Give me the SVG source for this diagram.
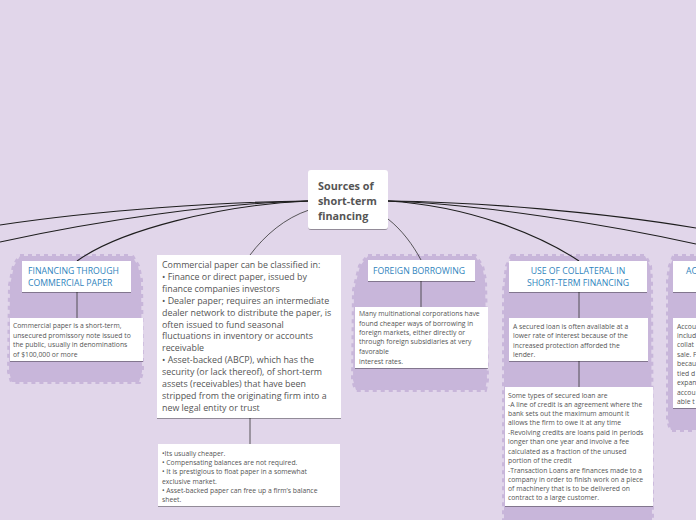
<svg xmlns="http://www.w3.org/2000/svg" width="696" height="520" viewBox="0 0 696 520">
<defs>
<filter id="sh" x="-5%" y="-5%" width="110%" height="115%">
<feDropShadow dx="0" dy="1" stdDeviation="0.6" flood-color="#000" flood-opacity="0.35"/>
</filter>
</defs>
<style>
.bg{fill:#e1d6ea}
.cl{fill:#c8b6da;stroke:#c8b6da;stroke-width:4;stroke-dasharray:4 4}
.box{fill:#ffffff;filter:url(#sh)}
.root{fill:#ffffff;filter:url(#sh)}
.t{font-family:"Open Sans","Noto Sans",sans-serif;fill:#555555}
.rt{font-size:10.8px;font-weight:bold}
.h{font-family:"Open Sans","Noto Sans",sans-serif;fill:#2f84bd;font-size:8.7px}
.m{font-size:8.9px}
.s{font-size:6.8px}
.c{fill:none;stroke:#1e1e1e;stroke-width:1.1}
.c2{fill:none;stroke:#333;stroke-width:0.8}
</style>
<rect class="bg" x="0" y="0" width="696" height="520"/>

<g id="clusters">
<path class="cl" d="M20,256 L132,256 L138,266 L141,280 L142,372 L139,382 L12,382 L9,372 L10,285 L14,266 Z"/>
<path class="cl" d="M368,256 L475,256 L482,266 L485,280 L487,380 L485,390 L356,390 L353,380 L354,290 L360,266 Z"/>
<path class="cl" d="M512,256 L645,256 L650,266 L651,280 L652,524 L504,524 L504,290 L507,266 Z"/>
<path class="cl" d="M674,256 L700,256 L700,430 L671,430 L668,420 L668,280 L670,266 Z"/>
</g>

<g id="connectors">
<path class="c" d="M308,201 C220,202 100,210 0,225"/>
<path class="c" d="M308,201 C220,203 100,220 0,242"/>
<path class="c" d="M308,201 C220,205 120,230 77,261"/>
<path class="c2" d="M309,210 C285,218 265,235 250,255"/>
<path class="c" d="M388,201 C480,202 600,212 696,228"/>
<path class="c" d="M388,201 C480,204 610,225 696,244"/>
<path class="c" d="M388,201 C470,206 540,235 579,261"/>
<path class="c2" d="M388,219 C402,230 413,245 421,260"/>
<path class="c2" d="M77,292 L77,318"/>
<path class="c2" d="M250,418 L250,444"/>
<path class="c2" d="M421,281 L421,307"/>
<path class="c2" d="M579,292 L579,318"/>
<path class="c2" d="M579,361 L579,387"/>
</g>

<g id="root">
<rect class="root" x="308" y="170" width="80" height="59" rx="3"/>
<text class="t rt" x="318" y="189.5">Sources of</text>
<text class="t rt" x="318" y="204.5">short-term</text>
<text class="t rt" x="318" y="219.5">financing</text>
</g>

<g id="n-cp">
<rect class="box" x="22" y="261" width="109" height="31"/>
<text class="h" x="28" y="273.5">FINANCING THROUGH</text>
<text class="h" x="28" y="286">COMMERCIAL PAPER</text>
</g>
<g id="n-cp-desc">
<rect class="box" x="10" y="318" width="133" height="43"/>
<text class="t s" x="13" y="327.5">Commercial paper is a short-term,</text>
<text class="t s" x="13" y="337.5">unsecured promissory note issued to</text>
<text class="t s" x="13" y="347">the public, usually in denominations</text>
<text class="t s" x="13" y="356.5">of $100,000 or more</text>
</g>

<g id="n-classified">
<rect class="box" x="157" y="255" width="184" height="163"/>
<text class="t m" x="162" y="268">Commercial paper can be classified in:</text>
<text class="t m" x="162" y="280">• Finance or direct paper, issued by</text>
<text class="t m" x="162" y="291.8">finance companies investors</text>
<text class="t m" x="162" y="303.7">• Dealer paper; requires an intermediate</text>
<text class="t m" x="162" y="315.6">dealer network to distribute the paper, is</text>
<text class="t m" x="162" y="327.5">often issued to fund seasonal</text>
<text class="t m" x="162" y="339.4">fluctuations in inventory or accounts</text>
<text class="t m" x="162" y="351.3">receivable</text>
<text class="t m" x="162" y="363.2">• Asset-backed (ABCP), which has the</text>
<text class="t m" x="162" y="375.1">security (or lack thereof), of short-term</text>
<text class="t m" x="162" y="387">assets (receivables) that have been</text>
<text class="t m" x="162" y="398.9">stripped from the originating firm into a</text>
<text class="t m" x="162" y="410.8">new legal entity or trust</text>
</g>

<g id="n-advantages">
<rect class="box" x="158" y="444" width="182" height="62"/>
<text class="t s" x="162" y="455.5">•Its usually cheaper.</text>
<text class="t s" x="162" y="465">• Compensating balances are not required.</text>
<text class="t s" x="162" y="474.2">• It is prestigious to float paper in a somewhat</text>
<text class="t s" x="162" y="483.5">exclusive market.</text>
<text class="t s" x="162" y="492.7">• Asset-backed paper can free up a firm’s balance</text>
<text class="t s" x="162" y="502">sheet.</text>
</g>

<g id="n-foreign">
<rect class="box" x="368" y="260" width="107" height="21"/>
<text class="h" x="373" y="274">FOREIGN BORROWING</text>
</g>
<g id="n-foreign-desc">
<rect class="box" x="355" y="307" width="133" height="61"/>
<text class="t s" x="359" y="316">Many multinational corporations have</text>
<text class="t s" x="359" y="325.5">found cheaper ways of borrowing in</text>
<text class="t s" x="359" y="334.8">foreign markets, either directly or</text>
<text class="t s" x="359" y="344">through foreign subsidiaries at very</text>
<text class="t s" x="359" y="353.5">favorable</text>
<text class="t s" x="359" y="363.5">interest rates.</text>
</g>

<g id="n-collateral">
<rect class="box" x="509" y="261" width="138" height="31"/>
<text class="h" x="578" y="273.5" text-anchor="middle">USE OF COLLATERAL IN</text>
<text class="h" x="578" y="286" text-anchor="middle">SHORT-TERM FINANCING</text>
</g>
<g id="n-secured">
<rect class="box" x="509" y="318" width="139" height="43"/>
<text class="t s" x="513" y="328.5">A secured loan is often available at a</text>
<text class="t s" x="513" y="338">lower rate of interest because of the</text>
<text class="t s" x="513" y="347.5">increased protection afforded the</text>
<text class="t s" x="513" y="357">lender.</text>
</g>
<g id="n-types">
<rect class="box" x="505" y="387" width="148" height="119"/>
<text class="t s" x="508" y="397.5">Some types of secured loan are</text>
<text class="t s" x="508" y="406.5">-A line of credit is an agreement where the</text>
<text class="t s" x="508" y="415.8">bank sets out the maximum amount it</text>
<text class="t s" x="508" y="425">allows the firm to owe it at any time</text>
<text class="t s" x="508" y="435">-Revolving credits are loans paid in periods</text>
<text class="t s" x="508" y="444.3">longer than one year and  involve a fee</text>
<text class="t s" x="508" y="453.5">calculated as a fraction of the unused</text>
<text class="t s" x="508" y="462.7">portion of the credit</text>
<text class="t s" x="508" y="472.5">-Transaction Loans are finances made to a</text>
<text class="t s" x="508" y="481.7">company in order to finish work on a piece</text>
<text class="t s" x="508" y="491">of machinery that is to be delivered on</text>
<text class="t s" x="508" y="500.3">contract to a large customer.</text>
</g>

<g id="n-accounts">
<rect class="box" x="673" y="261" width="30" height="31"/>
<text class="h" x="686" y="273.5">AC</text>
</g>
<g id="n-accounts-desc">
<rect class="box" x="673" y="318" width="30" height="90"/>
<text class="t s" x="677" y="328.5">Accou</text>
<text class="t s" x="677" y="338">includ</text>
<text class="t s" x="677" y="347">collat</text>
<text class="t s" x="677" y="356.5">sale. F</text>
<text class="t s" x="677" y="365.5">becau</text>
<text class="t s" x="677" y="375.5">tied d</text>
<text class="t s" x="677" y="385">expan</text>
<text class="t s" x="677" y="394.5">accou</text>
<text class="t s" x="677" y="404">able t</text>
</g>
</svg>
